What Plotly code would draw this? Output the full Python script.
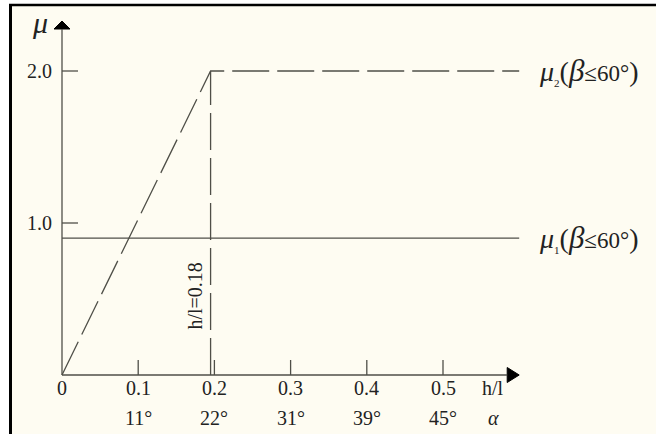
import plotly.graph_objects as go

# ---- data ----
x_tick_vals = [0.1, 0.2, 0.3, 0.4, 0.5]
x_tick_labels = ["0.1", "0.2", "0.3", "0.4", "0.5"]
angle_labels = ["11°", "22°", "31°", "39°", "45°"]
y_tick_vals = [1.0, 2.0]
y_tick_labels = ["1.0", "2.0"]

mu1_x = [0.0, 0.6]
mu1_y = [0.9, 0.9]
mu2_x = [0.0, 0.195, 0.6]
mu2_y = [0.0, 2.0, 2.0]
h_l_mark = 0.195

# ---- geometry (pixel scale of the axes) ----
W, H = 656, 434
X0_PX, Y0_PX = 62, 375          # origin in pixels
PX_X = 762.0                    # pixels per unit on x
PX_Y = 152.0                    # pixels per unit on y
x_range = [-X0_PX / PX_X, (W - X0_PX) / PX_X]
y_range = [-(H - Y0_PX) / PX_Y, Y0_PX / PX_Y]
dx = 1 / PX_X
dy = 1 / PX_Y

LINE = "#4f4f48"
TXT = "#222222"
FONT = "Liberation Serif"
CREAM = "#FEFCF2"

fig = go.Figure()

# mu1 solid line
fig.add_trace(go.Scatter(x=mu1_x, y=mu1_y, mode="lines",
                         line=dict(color=LINE, width=1.3), hoverinfo="skip"))
# mu2 dashed line
fig.add_trace(go.Scatter(x=mu2_x, y=mu2_y, mode="lines",
                         line=dict(color=LINE, width=1.3, dash="37px,8px"), hoverinfo="skip"))
# vertical dashed at h/l
fig.add_trace(go.Scatter(x=[h_l_mark, h_l_mark], y=[0, 2.0], mode="lines",
                         line=dict(color=LINE, width=1.3, dash="37px,8px"), hoverinfo="skip"))

x_end = 0.6 - 12 * dx
y_end = 2.0 + 42 * dy
shapes = []
# axes
shapes.append(dict(type="line", x0=0, y0=0, x1=x_end, y1=0, line=dict(color=LINE, width=1.3)))
shapes.append(dict(type="line", x0=0, y0=0, x1=0, y1=y_end, line=dict(color=LINE, width=1.3)))
# x ticks
for v in x_tick_vals:
    shapes.append(dict(type="line", x0=v, y0=0, x1=v, y1=15 * dy, line=dict(color=LINE, width=1.3)))
# y ticks
for v in y_tick_vals:
    shapes.append(dict(type="line", x0=0, y0=v, x1=16 * dx, y1=v, line=dict(color=LINE, width=1.3)))

# arrows
fig.add_trace(go.Scatter(x=[-8 * dx, 8 * dx, 0, -8 * dx],
                         y=[y_end, y_end, y_end + 8 * dy, y_end],
                         fill="toself", fillcolor="black", mode="lines",
                         line=dict(color="black", width=1), hoverinfo="skip"))
fig.add_trace(go.Scatter(x=[x_end, x_end, x_end + 12 * dx, x_end],
                         y=[-7.5 * dy, 7.5 * dy, 0, -7.5 * dy],
                         fill="toself", fillcolor="black", mode="lines",
                         line=dict(color="black", width=1), hoverinfo="skip"))

ann = []
base = dict(showarrow=False, font=dict(family=FONT, size=20, color=TXT))
# x tick labels
ann.append(dict(base, x=0, y=-13 * dy, text="0", xanchor="center", yanchor="middle"))
for v, t in zip(x_tick_vals, x_tick_labels):
    ann.append(dict(base, x=v, y=-13 * dy, text=t, xanchor="center", yanchor="middle"))
for v, t in zip(x_tick_vals, angle_labels):
    ann.append(dict(base, x=v, y=-43 * dy, text=t, xanchor="center", yanchor="middle"))
ann.append(dict(base, x=0.6 - 26 * dx, y=-13 * dy, text="h/l", xanchor="center", yanchor="middle"))
ann.append(dict(base, x=0.6 - 26 * dx, y=-43 * dy, text="<i>α</i>", xanchor="center", yanchor="middle"))
# y tick labels
for v, t in zip(y_tick_vals, y_tick_labels):
    ann.append(dict(base, x=-8 * dx, y=v, text=t, xanchor="right", yanchor="middle"))
ann.append(dict(base, x=-22 * dx, y=y_end + 7 * dy, text="<i>μ</i>", xanchor="center", yanchor="middle",
                font=dict(family=FONT, size=30, color=TXT)))
# vertical label
ann.append(dict(base, x=h_l_mark - 16 * dx, y=0.52, text="h/l=0.18", textangle=-90,
                xanchor="center", yanchor="middle", font=dict(family=FONT, size=20, color=TXT)))


def series_label(idx):
    return ("<i>μ</i><sub><span style=\"font-size:11px\">%d</span></sub>(<span style=\"font-size:31px\"><i>β</i></span>"
            "<span style=\"font-size:23px\">≤60°</span>)" % idx)

ann.append(dict(base, x=0.6 + 18 * dx, y=mu2_y[-1], text=series_label(2), xanchor="left", yanchor="middle",
                font=dict(family=FONT, size=28, color=TXT)))
ann.append(dict(base, x=0.6 + 18 * dx, y=mu1_y[-1], text=series_label(1), xanchor="left", yanchor="middle",
                font=dict(family=FONT, size=28, color=TXT)))

# background frame (paper coords)
bg = [
    dict(type="rect", xref="paper", yref="paper", x0=10 / W, x1=1, y0=0, y1=1 - 5 / H,
         fillcolor=CREAM, line=dict(width=0), layer="below"),
    dict(type="line", xref="paper", yref="paper", x0=10.5 / W, x1=10.5 / W, y0=0, y1=1 - 4 / H,
         line=dict(color="black", width=3), layer="below"),
    dict(type="line", xref="paper", yref="paper", x0=9 / W, x1=1, y0=1 - 5 / H, y1=1 - 5 / H,
         line=dict(color="black", width=2.5), layer="below"),
]

fig.update_layout(
    width=W, height=H, margin=dict(l=0, r=0, t=0, b=0),
    paper_bgcolor="white", plot_bgcolor="rgba(0,0,0,0)",
    showlegend=False,
    xaxis=dict(range=x_range, visible=False, fixedrange=True),
    yaxis=dict(range=y_range, visible=False, fixedrange=True),
    shapes=bg + shapes, annotations=ann,
)

fig.write_html("out.html", config={"displayModeBar": False},
               post_script="document.body.style.margin='0';document.body.style.overflow='hidden';")
